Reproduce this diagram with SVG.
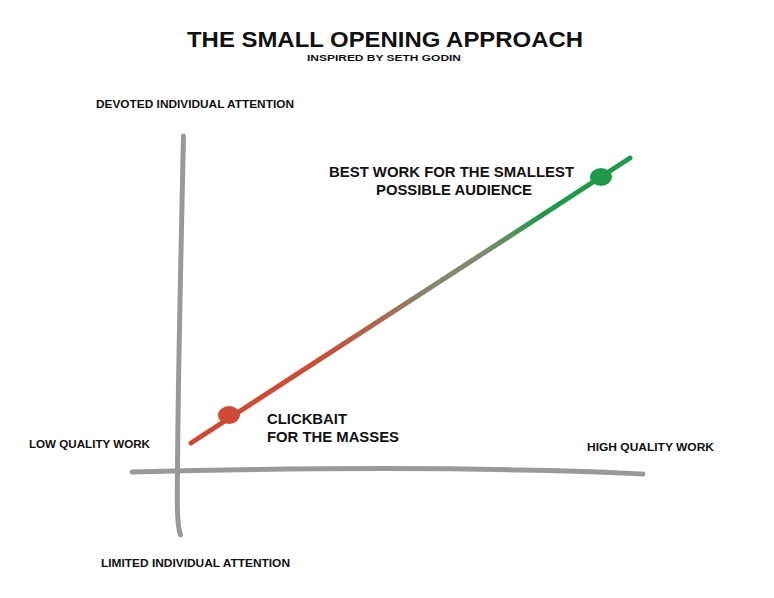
<svg xmlns="http://www.w3.org/2000/svg" width="774" height="598" viewBox="0 0 774 598">
  <style>
    text { font-family: "Liberation Sans", Arial, Helvetica, sans-serif; font-weight: bold; fill: #111; }
    .title { font-size: 22.5px; }
    .sub { font-size: 9.5px; }
    .axis-label { font-size: 11px; }
    .point-label { font-size: 15px; }
    .axis { fill: none; stroke: #999999; stroke-width: 5; stroke-linecap: round; }
    .trend { fill: none; stroke: url(#trendGrad); stroke-width: 5; stroke-linecap: round; }
  </style>
  <defs>
    <linearGradient id="trendGrad" gradientUnits="userSpaceOnUse" x1="191" y1="443" x2="630" y2="158">
      <stop offset="0" stop-color="#d04833"/>
      <stop offset="0.3" stop-color="#c94e38"/>
      <stop offset="0.47" stop-color="#a0705a"/>
      <stop offset="0.53" stop-color="#868670"/>
      <stop offset="0.67" stop-color="#7f8a6c"/>
      <stop offset="0.8" stop-color="#22984c"/>
      <stop offset="1" stop-color="#1f9a4b"/>
    </linearGradient>
  </defs>

  <rect width="774" height="598" fill="#ffffff"/>

  <!-- heading -->
  <g id="title">
    <text class="title" x="385" y="47" text-anchor="middle" textLength="396" lengthAdjust="spacingAndGlyphs">THE SMALL OPENING APPROACH</text>
    <text class="sub" x="384" y="61" text-anchor="middle" textLength="154" lengthAdjust="spacingAndGlyphs">INSPIRED BY SETH GODIN</text>
  </g>

  <!-- axes and trend line -->
  <g id="connectors">
    <path id="y-axis" class="axis" d="M183.5,136 C181,250 178,380 177.5,470 C177,505 177,525 180.5,535"/>
    <path id="x-axis" class="axis" d="M132,472 C250,469 400,467 520,470 C580,471 620,473 643,474"/>
    <path id="trend" class="trend" d="M191,443 L630,158"/>
  </g>

  <!-- axis labels -->
  <g id="label-devoted">
    <text class="axis-label" x="96" y="108" textLength="198" lengthAdjust="spacingAndGlyphs">DEVOTED INDIVIDUAL ATTENTION</text>
  </g>
  <g id="label-limited">
    <text class="axis-label" x="101" y="567" textLength="189" lengthAdjust="spacingAndGlyphs">LIMITED INDIVIDUAL ATTENTION</text>
  </g>
  <g id="label-low">
    <text class="axis-label" x="29" y="448" textLength="121" lengthAdjust="spacingAndGlyphs">LOW QUALITY WORK</text>
  </g>
  <g id="label-high">
    <text class="axis-label" x="587" y="451" textLength="127" lengthAdjust="spacingAndGlyphs">HIGH QUALITY WORK</text>
  </g>

  <!-- points on the line -->
  <g id="clickbait">
    <ellipse cx="229" cy="415" rx="11" ry="9" fill="#cf4934"/>
    <text class="point-label" x="267" y="424" textLength="80" lengthAdjust="spacingAndGlyphs">CLICKBAIT</text>
    <text class="point-label" x="267" y="442" textLength="132" lengthAdjust="spacingAndGlyphs">FOR THE MASSES</text>
  </g>
  <g id="best-work">
    <ellipse cx="601" cy="177" rx="11" ry="9" fill="#1f9a4b"/>
    <text class="point-label" x="451.5" y="177" text-anchor="middle" textLength="245" lengthAdjust="spacingAndGlyphs">BEST WORK FOR THE SMALLEST</text>
    <text class="point-label" x="454" y="195" text-anchor="middle" textLength="156" lengthAdjust="spacingAndGlyphs">POSSIBLE AUDIENCE</text>
  </g>
</svg>
